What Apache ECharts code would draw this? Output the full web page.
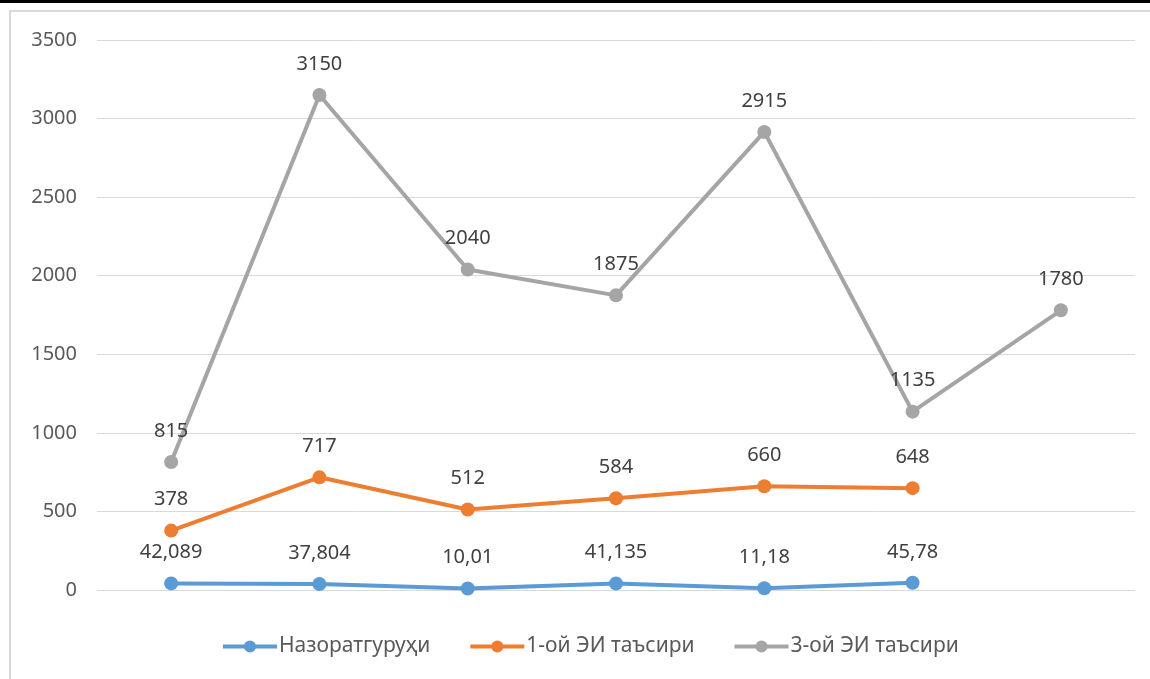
<!DOCTYPE html>
<html><head><meta charset="utf-8">
<script src="https://cdn.jsdelivr.net/npm/echarts@6/dist/echarts.min.js"></script>
<style>html,body{margin:0;padding:0;background:#fff}#c{width:1150px;height:679px}</style>
</head><body><div id="c"></div>
<script>
const categories = ['1','2','3','4','5','6','7'];
const seriesNames = ['Назоратгуруҳи', '1-ой ЭИ таъсири', '3-ой ЭИ таъсири'];
const control = [42.089, 37.804, 10.01, 41.135, 11.18, 45.78, null];
const month1 = [378, 717, 512, 584, 660, 648, null];
const month3 = [815, 3150, 2040, 1875, 2915, 1135, 1780];
const yTicks = [0, 500, 1000, 1500, 2000, 2500, 3000, 3500];
const colors = ['#5B9BD5', '#ED7D31', '#A5A5A5'];
const font = 'Noto Sans';

const chart = echarts.init(document.getElementById('c'), null, {renderer: 'canvas'});
function mk(name, data, color) {
  return {
    name, type: 'line', data, color,
    symbol: 'circle', symbolSize: 14,
    lineStyle: {width: 4, color},
    itemStyle: {color},
    connectNulls: false,
    label: {
      show: true, position: 'top', distance: 14,
      fontFamily: font, fontSize: 20, color: '#404040',
      formatter: p => String(p.value).replace('.', ',')
    },
    emphasis: {disabled: true},
    z: 3
  };
}
chart.setOption({
  animation: false,
  backgroundColor: '#fff',
  graphic: [
    {type: 'rect', shape: {x: 0, y: 0, width: 1150, height: 3}, style: {fill: '#000'}},
    {type: 'rect', shape: {x: 10, y: 11, width: 1160, height: 700}, style: {fill: 'none', stroke: '#d9d9d9', lineWidth: 2}}
  ],
  grid: {left: 97, right: 15, top: 40, bottom: 89, containLabel: false},
  legend: {
    left: 216, top: 631,
    itemWidth: 54, itemHeight: 15, itemGap: 38,
    lineStyle: {width: 4},
    textStyle: {fontFamily: font, fontSize: 21, color: '#595959', padding: [0,0,0,-3]},
    data: seriesNames
  },
  xAxis: {
    type: 'category', data: categories, boundaryGap: true,
    axisLine: {show: false}, axisTick: {show: false}, axisLabel: {show: false}
  },
  yAxis: {
    type: 'value', min: yTicks[0], max: yTicks[yTicks.length-1], interval: 500,
    axisLine: {show: false}, axisTick: {show: false},
    axisLabel: {margin: 20, fontFamily: font, fontSize: 20, color: '#595959', formatter: v => String(v)},
    splitLine: {lineStyle: {color: '#d9d9d9', width: 1}}
  },
  series: [
    mk(seriesNames[0], control, colors[0]),
    mk(seriesNames[1], month1, colors[1]),
    mk(seriesNames[2], month3, colors[2])
  ]
});
</script></body></html>
